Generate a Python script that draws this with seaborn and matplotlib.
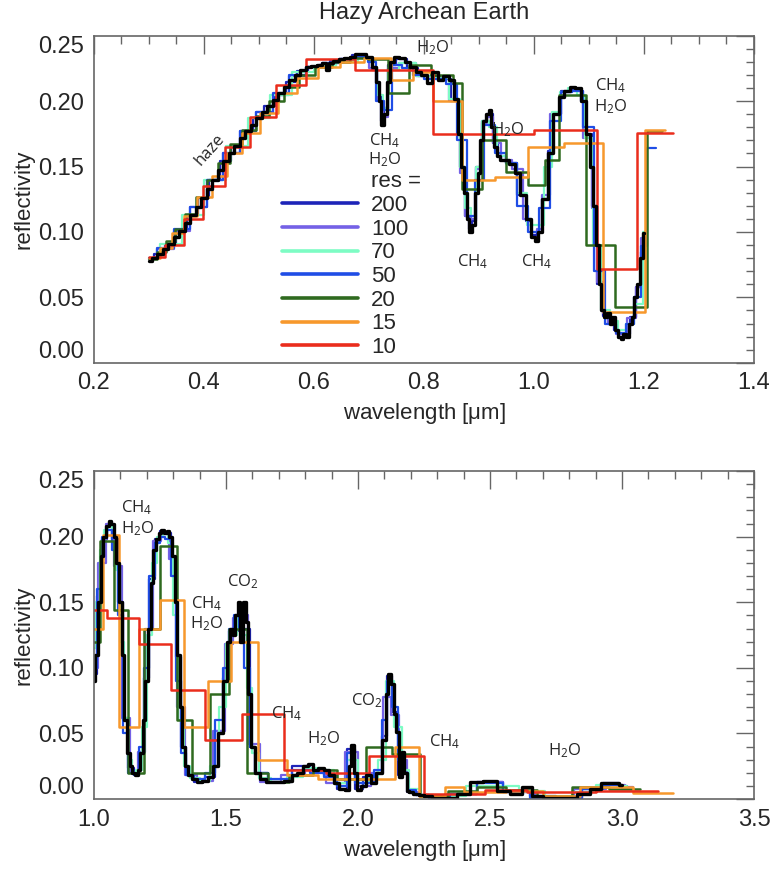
import numpy as np
import pandas as pd

import matplotlib
matplotlib.use("Agg")
import matplotlib.pyplot as plt
from matplotlib.lines import Line2D
import seaborn as sns


# ---------------- data: top panel (0.3 - 1.25 um) ----------------
# highest resolution spectrum (black)
black_top_wl = [0.300, 0.310, 0.320, 0.330, 0.340, 0.350, 0.360, 0.370, 0.380, 0.390,
                0.400, 0.410, 0.420, 0.430, 0.440, 0.450, 0.460, 0.470, 0.480, 0.490,
                0.500, 0.510, 0.520, 0.530, 0.540, 0.550, 0.560, 0.570, 0.580, 0.590,
                0.600, 0.610, 0.620, 0.625, 0.630, 0.640, 0.650, 0.660, 0.670, 0.680,
                0.690, 0.700, 0.710, 0.715, 0.720, 0.725, 0.730, 0.735, 0.740, 0.750,
                0.760, 0.770, 0.780, 0.790, 0.800, 0.810, 0.820, 0.830, 0.840, 0.850,
                0.860, 0.865, 0.870, 0.875, 0.880, 0.885, 0.890, 0.895, 0.900, 0.905,
                0.910, 0.915, 0.920, 0.925, 0.930, 0.935, 0.940, 0.950, 0.960, 0.970,
                0.980, 0.990, 1.000, 1.005, 1.010, 1.020, 1.030, 1.040, 1.050, 1.060,
                1.070, 1.080, 1.090, 1.100, 1.105, 1.110, 1.115, 1.120, 1.125, 1.130,
                1.135, 1.140, 1.145, 1.150, 1.155, 1.160, 1.165, 1.170, 1.175, 1.180,
                1.185, 1.190, 1.195, 1.200]
black_top_r = [0.078, 0.080, 0.083, 0.087, 0.091, 0.096, 0.101, 0.107, 0.113, 0.119,
               0.126, 0.133, 0.140, 0.147, 0.154, 0.160, 0.166, 0.172, 0.177, 0.182,
               0.187, 0.192, 0.196, 0.201, 0.206, 0.211, 0.216, 0.220, 0.224, 0.226,
               0.227, 0.228, 0.229, 0.224, 0.229, 0.231, 0.232, 0.233, 0.234, 0.236,
               0.236, 0.234, 0.226, 0.215, 0.200, 0.182, 0.190, 0.215, 0.230, 0.234,
               0.233, 0.230, 0.226, 0.222, 0.220, 0.214, 0.222, 0.216, 0.219, 0.216,
               0.202, 0.175, 0.150, 0.130, 0.110, 0.100, 0.105, 0.130, 0.145, 0.170,
               0.185, 0.190, 0.193, 0.180, 0.165, 0.158, 0.155, 0.155, 0.152, 0.145,
               0.128, 0.110, 0.096, 0.093, 0.100, 0.125, 0.160, 0.190, 0.203, 0.208,
               0.211, 0.210, 0.200, 0.175, 0.150, 0.120, 0.090, 0.060, 0.040, 0.035,
               0.038, 0.030, 0.035, 0.025, 0.020, 0.018, 0.022, 0.020, 0.030, 0.035,
               0.050, 0.060, 0.080, 0.099]

# res = 200 (dark blue)
r200_top_wl = [0.30, 0.32, 0.34, 0.36, 0.38, 0.40, 0.42, 0.44, 0.46, 0.48, 0.50, 0.52,
               0.54, 0.56, 0.58, 0.60, 0.62, 0.64, 0.66, 0.68, 0.70, 0.71, 0.72, 0.725,
               0.73, 0.74, 0.76, 0.78, 0.80, 0.82, 0.84, 0.86, 0.87, 0.88, 0.885, 0.89,
               0.90, 0.91, 0.92, 0.93, 0.94, 0.96, 0.98, 0.99, 1.00, 1.01, 1.02, 1.03,
               1.04, 1.06, 1.08, 1.09, 1.10, 1.11, 1.12, 1.13, 1.14, 1.15, 1.16, 1.17,
               1.18, 1.19, 1.20, 1.205]
r200_top_r = [0.079, 0.083, 0.091, 0.101, 0.113, 0.126, 0.140, 0.154, 0.166, 0.177, 0.187,
              0.196, 0.205, 0.215, 0.223, 0.226, 0.228, 0.231, 0.232, 0.235, 0.233, 0.224,
              0.205, 0.185, 0.195, 0.228, 0.232, 0.225, 0.219, 0.219, 0.217, 0.200, 0.150,
              0.112, 0.102, 0.108, 0.150, 0.185, 0.190, 0.168, 0.158, 0.153, 0.128, 0.108,
              0.098, 0.100, 0.125, 0.162, 0.190, 0.208, 0.209, 0.200, 0.175, 0.120, 0.060,
              0.036, 0.030, 0.025, 0.020, 0.022, 0.035, 0.058, 0.085, 0.100]

# res = 100 (slate blue)
r100_top_wl = [0.30, 0.33, 0.36, 0.39, 0.42, 0.45, 0.48, 0.51, 0.54, 0.57, 0.60, 0.63,
               0.66, 0.69, 0.71, 0.72, 0.73, 0.74, 0.77, 0.80, 0.83, 0.86, 0.87, 0.88,
               0.89, 0.90, 0.91, 0.92, 0.93, 0.95, 0.97, 0.99, 1.00, 1.01, 1.02, 1.04,
               1.06, 1.08, 1.10, 1.11, 1.12, 1.13, 1.14, 1.16, 1.18, 1.19, 1.20]
r100_top_r = [0.079, 0.087, 0.101, 0.119, 0.140, 0.160, 0.177, 0.192, 0.205, 0.219,
              0.226, 0.229, 0.232, 0.234, 0.225, 0.200, 0.188, 0.225, 0.229, 0.219,
              0.218, 0.200, 0.145, 0.112, 0.110, 0.148, 0.183, 0.188, 0.168, 0.155,
              0.148, 0.110, 0.100, 0.102, 0.128, 0.190, 0.207, 0.208, 0.172, 0.118,
              0.062, 0.038, 0.030, 0.022, 0.034, 0.058, 0.095]

# res = 70 (aquamarine)
r70_top_wl = [0.30, 0.34, 0.38, 0.42, 0.46, 0.50, 0.54, 0.58, 0.62, 0.66, 0.70, 0.71,
              0.72, 0.73, 0.74, 0.77, 0.80, 0.83, 0.86, 0.87, 0.88, 0.89, 0.90, 0.91,
              0.925, 0.94, 0.96, 0.98, 0.995, 1.01, 1.025, 1.04, 1.055, 1.07, 1.085,
              1.10, 1.115, 1.13, 1.145, 1.16, 1.175, 1.19, 1.205]
r70_top_r = [0.080, 0.091, 0.113, 0.140, 0.166, 0.187, 0.205, 0.222, 0.227, 0.231,
             0.233, 0.226, 0.205, 0.195, 0.224, 0.229, 0.219, 0.218, 0.202, 0.150,
             0.118, 0.112, 0.150, 0.185, 0.180, 0.158, 0.152, 0.130, 0.105, 0.105,
             0.150, 0.192, 0.207, 0.210, 0.205, 0.172, 0.090, 0.040, 0.032, 0.025,
             0.030, 0.045, 0.100]

# res = 50 (blue)
r50_top_wl = [0.30, 0.33, 0.36, 0.39, 0.42, 0.45, 0.48, 0.51, 0.54, 0.57, 0.60, 0.63,
              0.66, 0.69, 0.705, 0.72, 0.735, 0.75, 0.77, 0.79, 0.81, 0.83, 0.85, 0.87,
              0.885, 0.90, 0.92, 0.94, 0.96, 0.98, 1.00, 1.02, 1.04, 1.06, 1.08, 1.10,
              1.12, 1.14, 1.16, 1.175, 1.19, 1.20, 1.21, 1.222]
r50_top_r = [0.080, 0.088, 0.102, 0.119, 0.140, 0.160, 0.177, 0.192, 0.206, 0.220,
             0.226, 0.229, 0.232, 0.234, 0.230, 0.200, 0.193, 0.228, 0.225, 0.220,
             0.217, 0.217, 0.213, 0.170, 0.112, 0.140, 0.182, 0.160, 0.153, 0.120,
             0.100, 0.118, 0.185, 0.207, 0.208, 0.180, 0.070, 0.030, 0.023, 0.030,
             0.050, 0.089, 0.164, 0.164]

# res = 20, 15, 10: bin edges and bin values
r20_top_edges = [0.300, 0.315, 0.331, 0.348, 0.366, 0.385, 0.405, 0.425, 0.447, 0.470,
                 0.494, 0.519, 0.545, 0.573, 0.602, 0.633, 0.665, 0.699, 0.735, 0.772,
                 0.812, 0.853, 0.870, 0.905, 0.950, 0.990, 1.020, 1.045, 1.095, 1.147,
                 1.205, 1.232]
r20_top_r = [0.079, 0.085, 0.093, 0.102, 0.114, 0.127, 0.140, 0.153, 0.167, 0.178,
             0.189, 0.200, 0.211, 0.220, 0.226, 0.230, 0.233, 0.232, 0.206, 0.228,
             0.220, 0.214, 0.133, 0.170, 0.146, 0.136, 0.155, 0.205, 0.090, 0.043,
             0.177]

r15_top_edges = [0.300, 0.320, 0.341, 0.364, 0.388, 0.414, 0.441, 0.470, 0.501, 0.535,
                 0.570, 0.608, 0.648, 0.691, 0.740, 0.780, 0.817, 0.870, 0.930, 0.990,
                 1.055, 1.126, 1.202, 1.238]
r15_top_r = [0.080, 0.088, 0.099, 0.112, 0.127, 0.143, 0.160, 0.176, 0.191, 0.206,
             0.218, 0.226, 0.230, 0.233, 0.216, 0.222, 0.200, 0.140, 0.142, 0.165,
             0.168, 0.039, 0.178]

r10_top_edges = [0.300, 0.330, 0.363, 0.399, 0.439, 0.483, 0.531, 0.585, 0.674, 0.817,
                 1.000, 1.115, 1.187, 1.252]
r10_top_r = [0.081, 0.090, 0.110, 0.135, 0.165, 0.188, 0.212, 0.232, 0.224, 0.175,
             0.178, 0.072, 0.176]


# ---------------- data: bottom panel (1.0 - 3.2 um) ----------------
black_bot_wl = [1.00, 1.01, 1.02, 1.03, 1.04, 1.05, 1.06, 1.07, 1.08, 1.09, 1.10, 1.11,
                1.12, 1.13, 1.14, 1.15, 1.16, 1.17, 1.18, 1.19, 1.20, 1.21, 1.22, 1.23,
                1.24, 1.25, 1.26, 1.27, 1.28, 1.29, 1.30, 1.31, 1.32, 1.33, 1.34, 1.35,
                1.36, 1.38, 1.40, 1.42, 1.44, 1.46, 1.48, 1.50, 1.51, 1.52, 1.53, 1.54,
                1.55, 1.56, 1.57, 1.58, 1.59, 1.60, 1.62, 1.64, 1.66, 1.70, 1.74, 1.76,
                1.78, 1.80, 1.82, 1.84, 1.86, 1.88, 1.90, 1.92, 1.94, 1.96, 1.97, 1.98,
                1.99, 2.00, 2.02, 2.04, 2.06, 2.08, 2.10, 2.11, 2.12, 2.13, 2.14, 2.15,
                2.16, 2.17, 2.18, 2.19, 2.20, 2.22, 2.24, 2.26, 2.30, 2.35, 2.40, 2.45,
                2.50, 2.55, 2.60, 2.64, 2.68, 2.72, 2.80, 2.86, 2.90, 2.94, 2.98, 3.00]
black_bot_r = [0.090, 0.110, 0.150, 0.185, 0.200, 0.208, 0.212, 0.210, 0.200, 0.180,
               0.150, 0.110, 0.060, 0.035, 0.025, 0.020, 0.018, 0.022, 0.035, 0.060,
               0.090, 0.130, 0.165, 0.190, 0.198, 0.203, 0.205, 0.203, 0.204, 0.200,
               0.185, 0.150, 0.110, 0.070, 0.040, 0.025, 0.018, 0.015, 0.013, 0.014,
               0.017, 0.025, 0.050, 0.090, 0.120, 0.130, 0.125, 0.140, 0.150, 0.120,
               0.150, 0.135, 0.080, 0.040, 0.020, 0.015, 0.013, 0.013, 0.014, 0.018,
               0.020, 0.025, 0.027, 0.022, 0.024, 0.022, 0.018, 0.012, 0.008, 0.007,
               0.025, 0.041, 0.020, 0.007, 0.010, 0.018, 0.012, 0.020, 0.045, 0.080,
               0.095, 0.088, 0.065, 0.051, 0.017, 0.036, 0.020, 0.006, 0.005, 0.004,
               0.003, 0.002, 0.001, 0.001, 0.004, 0.013, 0.014, 0.006, 0.004, 0.009,
               0.002, 0.001, 0.001, 0.004, 0.008, 0.012, 0.012, 0.011]

r200_bot_wl = [1.00, 1.02, 1.04, 1.06, 1.08, 1.10, 1.12, 1.14, 1.16, 1.18, 1.20, 1.22,
               1.24, 1.26, 1.28, 1.30, 1.32, 1.34, 1.36, 1.40, 1.44, 1.48, 1.50, 1.52,
               1.54, 1.56, 1.58, 1.60, 1.62, 1.70, 1.80, 1.84, 1.90, 1.94, 1.98, 2.00,
               2.04, 2.08, 2.10, 2.12, 2.14, 2.16, 2.18, 2.20, 2.24, 2.30, 2.40, 2.50,
               2.60, 2.70, 2.80, 2.90, 2.96, 3.02]
r200_bot_r = [0.095, 0.155, 0.198, 0.210, 0.198, 0.150, 0.060, 0.024, 0.018, 0.036,
              0.092, 0.168, 0.198, 0.204, 0.203, 0.183, 0.108, 0.040, 0.018, 0.013,
              0.017, 0.052, 0.092, 0.128, 0.138, 0.128, 0.130, 0.040, 0.020, 0.013,
              0.025, 0.022, 0.018, 0.008, 0.038, 0.008, 0.017, 0.020, 0.048, 0.094,
              0.066, 0.018, 0.020, 0.005, 0.003, 0.001, 0.004, 0.013, 0.005, 0.002,
              0.001, 0.008, 0.012, 0.010]

r100_bot_wl = [1.00, 1.03, 1.06, 1.09, 1.12, 1.15, 1.18, 1.21, 1.24, 1.27, 1.30, 1.33,
               1.36, 1.42, 1.48, 1.51, 1.54, 1.57, 1.60, 1.66, 1.76, 1.84, 1.92, 1.98,
               2.02, 2.08, 2.11, 2.14, 2.17, 2.20, 2.26, 2.40, 2.50, 2.60, 2.74, 2.90,
               2.98, 3.04]
r100_bot_r = [0.100, 0.180, 0.210, 0.178, 0.062, 0.020, 0.036, 0.130, 0.197, 0.202,
              0.183, 0.070, 0.018, 0.014, 0.052, 0.118, 0.138, 0.140, 0.042, 0.013,
              0.018, 0.022, 0.012, 0.036, 0.010, 0.020, 0.078, 0.064, 0.030, 0.005,
              0.002, 0.004, 0.013, 0.005, 0.001, 0.008, 0.011, 0.009]

r70_bot_wl = [1.00, 1.015, 1.03, 1.045, 1.06, 1.075, 1.09, 1.105, 1.12, 1.135, 1.15,
              1.17, 1.19, 1.21, 1.23, 1.25, 1.27, 1.29, 1.31, 1.33, 1.35, 1.38, 1.42,
              1.46, 1.49, 1.51, 1.53, 1.55, 1.57, 1.59, 1.61, 1.64, 1.70, 1.76, 1.82,
              1.88, 1.94, 1.98, 2.02, 2.06, 2.09, 2.12, 2.15, 2.18, 2.21, 2.26, 2.36,
              2.46, 2.56, 2.66, 2.76, 2.86, 2.94, 3.02]
r70_bot_r = [0.115, 0.150, 0.190, 0.205, 0.208, 0.200, 0.175, 0.120, 0.062, 0.030,
             0.020, 0.022, 0.055, 0.125, 0.180, 0.200, 0.203, 0.195, 0.140, 0.060,
             0.025, 0.016, 0.014, 0.025, 0.070, 0.118, 0.125, 0.138, 0.125, 0.085,
             0.035, 0.016, 0.013, 0.017, 0.024, 0.022, 0.012, 0.030, 0.012, 0.016,
             0.030, 0.090, 0.055, 0.022, 0.008, 0.003, 0.002, 0.010, 0.010, 0.006,
             0.001, 0.005, 0.011, 0.010]

r50_bot_wl = [1.00, 1.02, 1.04, 1.06, 1.08, 1.10, 1.12, 1.14, 1.16, 1.18, 1.20, 1.22,
              1.24, 1.26, 1.28, 1.30, 1.32, 1.34, 1.36, 1.40, 1.44, 1.48, 1.50, 1.52,
              1.54, 1.56, 1.58, 1.60, 1.62, 1.70, 1.80, 1.84, 1.90, 1.94, 1.98, 2.00,
              2.04, 2.08, 2.10, 2.12, 2.14, 2.16, 2.18, 2.20, 2.24, 2.30, 2.40, 2.50,
              2.60, 2.70, 2.80, 2.90, 2.96, 3.04]
r50_bot_r = [0.100, 0.160, 0.200, 0.205, 0.190, 0.140, 0.050, 0.020, 0.018, 0.040,
             0.100, 0.170, 0.195, 0.200, 0.198, 0.170, 0.090, 0.035, 0.018, 0.015,
             0.020, 0.060, 0.100, 0.130, 0.140, 0.130, 0.100, 0.040, 0.020, 0.015,
             0.022, 0.020, 0.017, 0.010, 0.035, 0.012, 0.012, 0.022, 0.060, 0.090,
             0.070, 0.030, 0.020, 0.007, 0.003, 0.001, 0.004, 0.012, 0.006, 0.001,
             0.001, 0.008, 0.011, 0.008]

r20_bot_edges = [1.000, 1.024, 1.074, 1.130, 1.190, 1.250, 1.313, 1.370, 1.440, 1.510,
                 1.580, 1.660, 1.740, 1.830, 1.920, 2.030, 2.128, 2.235, 2.340, 2.450,
                 2.560, 2.680, 2.810, 2.950, 3.070]
r20_bot_r = [0.120, 0.197, 0.144, 0.020, 0.130, 0.193, 0.060, 0.020, 0.080, 0.130,
             0.020, 0.013, 0.018, 0.022, 0.015, 0.040, 0.034, 0.002, 0.006, 0.009,
             0.007, 0.002, 0.009, 0.008]

r15_bot_edges = [1.000, 1.033, 1.096, 1.170, 1.250, 1.340, 1.430, 1.520, 1.620, 1.730,
                 1.850, 1.970, 2.140, 2.230, 2.330, 2.400, 2.560, 2.700, 2.840, 3.040,
                 3.194]
r15_bot_r = [0.130, 0.201, 0.055, 0.130, 0.152, 0.055, 0.090, 0.120, 0.030, 0.018,
             0.015, 0.015, 0.040, 0.002, 0.009, 0.005, 0.006, 0.002, 0.009, 0.0045]

r10_bot_edges = [1.000, 1.048, 1.170, 1.290, 1.420, 1.560, 1.720, 1.880, 2.040, 2.250,
                 2.480, 2.640, 2.900, 3.137]
r10_bot_r = [0.144, 0.138, 0.118, 0.083, 0.045, 0.065, 0.022, 0.020, 0.0325, 0.004,
             0.007, 0.005, 0.006]

res_labels = ["200", "100", "70", "50", "20", "15", "10"]
res_colors = ["#1d24b8", "#7461e6", "#7dfcc4", "#1f4de6", "#2f6a1f", "#f7982c", "#ea2d1c"]


def step_frame(edges, vals):
    # close the last bin so steps-post draws it
    return pd.DataFrame({"wl": edges, "r": list(vals) + [vals[-1]]})


def draw_panel(ax, hires, lowres, black_wl, black_r):
    for (wl, r), c in zip(hires, res_colors[:4]):
        sns.lineplot(x=wl, y=r, ax=ax, color=c, lw=1.6, drawstyle="steps-mid",
                     sort=False, estimator=None)
    for (ed, r), c in zip(lowres, res_colors[4:]):
        d = step_frame(ed, r)
        sns.lineplot(data=d, x="wl", y="r", ax=ax, color=c, lw=1.8,
                     drawstyle="steps-post", sort=False, estimator=None)
    sns.lineplot(x=black_wl, y=black_r, ax=ax, color="black", lw=2.4,
                 drawstyle="steps-mid", sort=False, estimator=None)


sns.set_style("white")
plt.rcParams["font.family"] = ["Liberation Sans", "DejaVu Sans"]
plt.rcParams["mathtext.default"] = "regular"

fig = plt.figure(figsize=(7.71, 8.72), dpi=100)
ax1 = fig.add_axes([0.1219, 0.584, 0.856, 0.375])
ax2 = fig.add_axes([0.1219, 0.0837, 0.856, 0.376])

draw_panel(ax1,
           [(r200_top_wl, r200_top_r), (r100_top_wl, r100_top_r),
            (r70_top_wl, r70_top_r), (r50_top_wl, r50_top_r)],
           [(r20_top_edges, r20_top_r), (r15_top_edges, r15_top_r),
            (r10_top_edges, r10_top_r)],
           black_top_wl, black_top_r)
draw_panel(ax2,
           [(r200_bot_wl, r200_bot_r), (r100_bot_wl, r100_bot_r),
            (r70_bot_wl, r70_bot_r), (r50_bot_wl, r50_bot_r)],
           [(r20_bot_edges, r20_bot_r), (r15_bot_edges, r15_bot_r),
            (r10_bot_edges, r10_bot_r)],
           black_bot_wl, black_bot_r)

yt = [0.00, 0.05, 0.10, 0.15, 0.20, 0.25]
for ax, xlim, xmaj, xmin in [(ax1, (0.2, 1.4), 0.2, 0.05), (ax2, (1.0, 3.5), 0.5, 0.1)]:
    ax.set_xlim(*xlim)
    ax.set_ylim(0, 0.25)
    ax.set_xticks(np.arange(xlim[0], xlim[1] + 1e-6, xmaj))
    ax.set_xticks(np.arange(xlim[0], xlim[1] + 1e-6, xmin), minor=True)
    ax.set_yticks(yt)
    ax.set_yticks(np.arange(0, 0.2501, 0.01), minor=True)
    ax.set_xticklabels([f"{v:.1f}" for v in ax.get_xticks()])
    ax.set_yticklabels([f"{v:.2f}" for v in yt])
    lab = ax.get_yticklabels()
    lab[0].set_va("bottom")
    lab[-1].set_va("top")
    ax.tick_params(which="major", direction="in", length=13, width=1, color="#666666",
                   top=True, right=True, labelsize=17, pad=7)
    ax.tick_params(which="minor", direction="in", length=6, width=1, color="#666666",
                   top=True, right=True)
    for s in ax.spines.values():
        s.set_color("#666666")
        s.set_linewidth(1.2)
    ax.set_xlabel(r"wavelength [$\mu$m]", fontsize=16, labelpad=5)
    ax.set_ylabel("reflectivity", fontsize=16, labelpad=3)

fig.text(0.5503, 0.985, "Hazy Archean Earth", ha="center", va="center", fontsize=17)

# legend
handles = [Line2D([], [], color="none")]
handles += [Line2D([], [], color=c, lw=2.6) for c in res_colors]
ax1.legend(handles, ["res ="] + res_labels, loc="upper left",
           bbox_to_anchor=(0.285, 0.585), frameon=False, fontsize=16,
           handlelength=3.4, handletextpad=0.6, labelspacing=0.12,
           borderaxespad=0, borderpad=0)

# annotations
afont = dict(family=["Open Sans", "DejaVu Sans"], fontsize=12, ha="center", va="center")
ax1.text(0.41, 0.163, "haze", rotation=48, **afont)
ax1.text(0.815, 0.241, r"H$_2$O", **afont)
ax1.text(0.728, 0.170, r"CH$_4$", **afont)
ax1.text(0.728, 0.155, r"H$_2$O", **afont)
ax1.text(0.952, 0.178, r"H$_2$O", **afont)
ax1.text(0.889, 0.077, r"CH$_4$", **afont)
ax1.text(1.005, 0.077, r"CH$_4$", **afont)
ax1.text(1.14, 0.212, r"CH$_4$", **afont)
ax1.text(1.14, 0.196, r"H$_2$O", **afont)

ax2.text(1.16, 0.222, r"CH$_4$", **afont)
ax2.text(1.167, 0.206, r"H$_2$O", **afont)
ax2.text(1.565, 0.166, r"CO$_2$", **afont)
ax2.text(1.427, 0.149, r"CH$_4$", **afont)
ax2.text(1.427, 0.134, r"H$_2$O", **afont)
ax2.text(1.73, 0.065, r"CH$_4$", **afont)
ax2.text(1.87, 0.046, r"H$_2$O", **afont)
ax2.text(2.033, 0.075, r"CO$_2$", **afont)
ax2.text(2.33, 0.044, r"CH$_4$", **afont)
ax2.text(2.784, 0.037, r"H$_2$O", **afont)

fig.savefig("out.png", dpi=100)
